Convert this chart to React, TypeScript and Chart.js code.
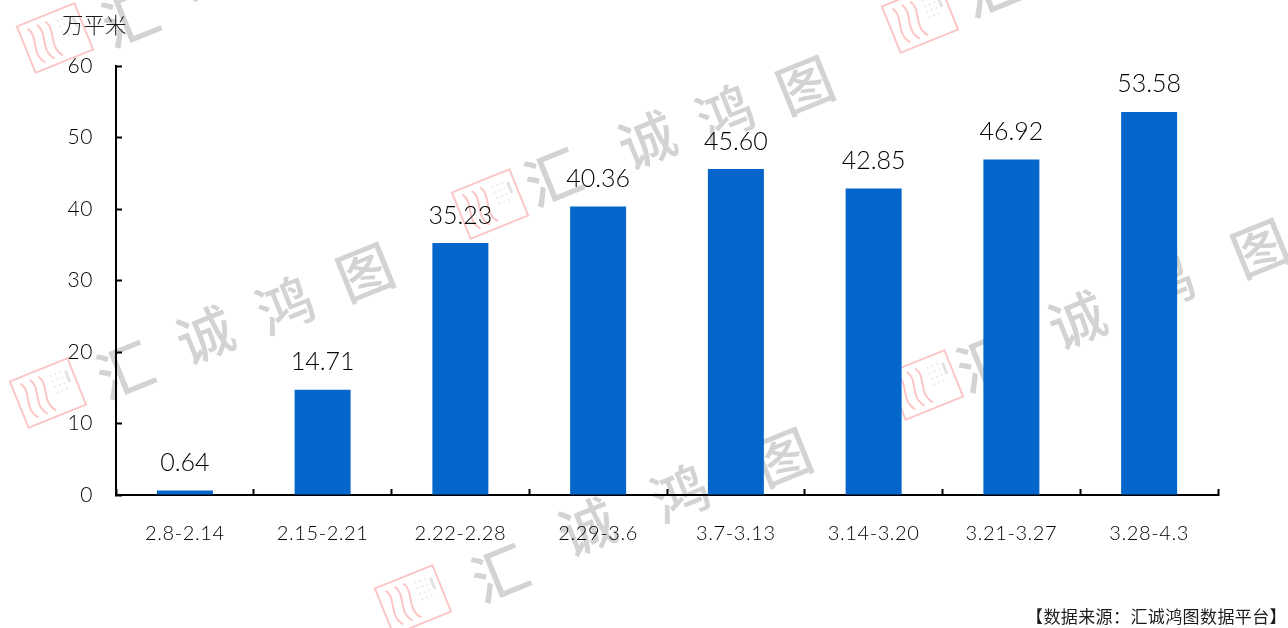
import React, { useEffect, useRef } from "react";
import { Chart, registerables } from "chart.js";

Chart.register(...registerables);

const categories = ["2.8-2.14", "2.15-2.21", "2.22-2.28", "2.29-3.6", "3.7-3.13", "3.14-3.20", "3.21-3.27", "3.28-4.3"];
const areaValues = [0.64, 14.71, 35.23, 40.36, 45.6, 42.85, 46.92, 53.58];
const valueLabels = ["0.64", "14.71", "35.23", "40.36", "45.60", "42.85", "46.92", "53.58"];
const unitLabel = "万平米";
const sourceLabel = "【数据来源：汇诚鸿图数据平台】";
const watermarkChars = ["汇", "诚", "鸿", "图"];
// Decoration only: each stamp centre, then the centres of the four watermark characters.
const watermarkStamps: [number, number][] = [
  [55, 38], [48, 393], [490, 204], [925, 385], [413, 600], [920, 18],
];
const watermarkGlyphs: [number, number][][] = [
  [[130, 18], [205, -28]],
  [[125, 370], [205, 335], [285, 305], [365, 272]],
  [[553, 177], [647, 140], [725, 113], [805, 85]],
  [[985, 363], [1077, 320], [1165, 283], [1260, 248]],
  [[500, 573], [587, 527], [680, 493], [783, 457]],
  [[990, -12]],
];

const LATIN = "Lato, 'Noto Sans CJK SC', sans-serif";
const CJK = "'Noto Sans CJK SC', sans-serif";
const TEXT = "#000";

function drawStamp(ctx: CanvasRenderingContext2D) {
  ctx.strokeStyle = "#fcc6c6";
  ctx.lineWidth = 2;
  ctx.strokeRect(-31, -25, 62, 50);
  for (const dx of [-22, -12, -3]) {
    ctx.beginPath();
    ctx.moveTo(dx, -19);
    ctx.bezierCurveTo(dx + 8, -8, dx - 7, 6, dx + 4, 19);
    ctx.stroke();
  }
  ctx.fillStyle = "#ececec";
  for (let r = 0; r < 4; r++) {
    for (let c = 0; c < 3; c++) {
      ctx.fillRect(8 + c * 5, -16 + r * 6, 2, 2);
    }
  }
  ctx.fillStyle = "#e2e2e2";
  ctx.fillRect(23, -14, 3, 12);
}

const ROTATION = (-22 * Math.PI) / 180;

const watermarkPlugin = {
  id: "watermark",
  beforeDraw(chart: Chart) {
    const ctx = chart.ctx;
    watermarkStamps.forEach(([ax, ay], k) => {
      ctx.save();
      ctx.translate(ax, ay);
      ctx.rotate(ROTATION);
      drawStamp(ctx);
      ctx.restore();
      watermarkGlyphs[k].forEach(([gx, gy], i) => {
        ctx.save();
        ctx.translate(gx, gy);
        ctx.rotate(ROTATION);
        ctx.fillStyle = "#d3d3d3";
        ctx.font = `500 56px ${CJK}`;
        ctx.textAlign = "center";
        ctx.textBaseline = "middle";
        ctx.fillText(watermarkChars[i], 0, 0);
        ctx.restore();
      });
    });
  },
};

const spacingPlugin = {
  id: "spacing",
  beforeDraw(chart: Chart) {
    (chart.ctx as any).letterSpacing = "0.6px";
  },
};

const annotationPlugin = {
  id: "annotations",
  afterDatasetsDraw(chart: Chart) {
    const ctx = chart.ctx;
    const meta = chart.getDatasetMeta(0);
    ctx.save();
    (ctx as any).letterSpacing = "0px";
    ctx.fillStyle = "#000";
    ctx.textAlign = "center";
    ctx.textBaseline = "bottom";
    ctx.font = `300 25px ${LATIN}`;
    meta.data.forEach((bar: any, i: number) => {
      ctx.fillText(valueLabels[i], bar.x, bar.y - 15);
    });
    ctx.fillStyle = "#1c1c1c";
    ctx.font = `300 21.5px ${CJK}`;
    ctx.textAlign = "left";
    ctx.textBaseline = "middle";
    ctx.fillText(unitLabel, 62, 25);
    ctx.font = `17px ${CJK}`;
    (ctx as any).letterSpacing = "0.4px";
    ctx.textAlign = "right";
    ctx.fillText(sourceLabel, 1287, 617);
    ctx.restore();
  },
};

export default function App() {
  const ref = useRef<HTMLCanvasElement>(null);
  useEffect(() => {
    document.body.style.margin = "0";
    const chart = new Chart(ref.current!, {
      type: "bar",
      data: {
        labels: categories,
        datasets: [{
          data: areaValues,
          backgroundColor: "#0465cb",
          categoryPercentage: 1,
          barPercentage: 0.4065,
        }],
      },
      plugins: [watermarkPlugin, spacingPlugin, annotationPlugin],
      options: {
        animation: false,
        responsive: false,
        layout: { padding: { left: 0, right: 70, top: 66, bottom: 0 } },
        plugins: { legend: { display: false }, tooltip: { enabled: false } },
        scales: {
          x: {
            afterFit(s: any) { s.height = 133; },
            grid: {
              offset: true, drawOnChartArea: false, drawTicks: true,
              tickLength: -6, tickWidth: 2, tickColor: "#000",
            },
            border: { color: "#000", width: 2 },
            ticks: { color: TEXT, font: { family: LATIN, size: 20, weight: "300" }, padding: 33, maxRotation: 0, autoSkip: false },
          },
          y: {
            min: 0, max: 60,
            afterFit(s: any) { s.width = 116; },
            grid: {
              drawOnChartArea: false, drawTicks: true,
              tickLength: -6, tickWidth: 2, tickColor: "#000",
            },
            border: { color: "#000", width: 2 },
            ticks: { color: TEXT, font: { family: LATIN, size: 21, weight: "300" }, padding: 29, stepSize: 10 },
          },
        },
      },
    } as any);
    return () => chart.destroy();
  }, []);
  return <canvas ref={ref} width={1288} height={628} style={{ display: "block" }} />;
}
